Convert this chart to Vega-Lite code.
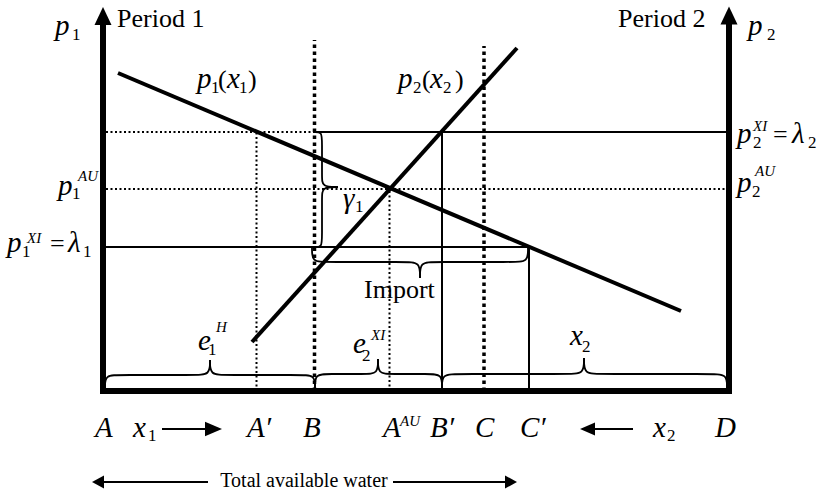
{
  "$schema": "https://vega.github.io/schema/vega-lite/v6.json",
  "width": 824,
  "height": 494,
  "padding": 0,
  "autosize": {"type": "fit", "contains": "padding"},
  "background": "white",
  "config": {"view": {"stroke": null}, "text": {"font": "'Liberation Serif', 'Times New Roman', Tinos, 'DejaVu Serif', serif"}},
  "datasets": {
    "axes": [
      {"x": 0, "y": 0, "x2": 0, "y2": 36.8},
      {"x": 62.6, "y": 0, "x2": 62.6, "y2": 36.8},
      {"x": 0, "y": 0, "x2": 62.6, "y2": 0}
    ],
    "curves": [
      {"x": 1.5, "y": 31.8, "x2": 57.8, "y2": 8.0},
      {"x": 14.9, "y": 4.9, "x2": 41.4, "y2": 34.3}
    ],
    "solid": [
      {"x": 21.1, "y": 25.9, "x2": 62.6, "y2": 25.9},
      {"x": 0.3, "y": 14.4, "x2": 42.6, "y2": 14.4},
      {"x": 33.9, "y": 0, "x2": 33.9, "y2": 25.9},
      {"x": 42.6, "y": 0, "x2": 42.6, "y2": 14.4}
    ],
    "dotthin": [
      {"x": 0.3, "y": 25.9, "x2": 21.1, "y2": 25.9},
      {"x": 0.3, "y": 20.2, "x2": 62.6, "y2": 20.2},
      {"x": 15.35, "y": 0, "x2": 15.35, "y2": 25.9},
      {"x": 28.65, "y": 0, "x2": 28.65, "y2": 20.2}
    ],
    "dotthick": [
      {"x": 21.15, "y": 0, "x2": 21.15, "y2": 35.1},
      {"x": 38.1, "y": 0, "x2": 38.1, "y2": 34.5}
    ],
    "arrowlines": [
      {"x": 5.9, "y": -3.8, "x2": 10.4, "y2": -3.8},
      {"x": 49.0, "y": -3.8, "x2": 53.0, "y2": -3.8},
      {"x": -0.1, "y": -9.1, "x2": 10.5, "y2": -9.1},
      {"x": 29.0, "y": -9.1, "x2": 40.4, "y2": -9.1}
    ],
    "heads": [
      {"x": 0, "y": 37.5, "k": "up"},
      {"x": 62.6, "y": 37.55, "k": "up"},
      {"x": 11.05, "y": -3.8, "k": "r1"},
      {"x": 48.45, "y": -3.8, "k": "l1"},
      {"x": -0.5, "y": -9.1, "k": "lw"},
      {"x": 40.8, "y": -9.1, "k": "rw"}
    ],
    "braces": [
      {"b": "e1L", "i": 0, "x": 0.2, "y": 0.3}, {"b": "e1L", "i": 1, "x": 0.2, "y": 1.6}, {"b": "e1L", "i": 2, "x": 1.7, "y": 1.6}, {"b": "e1L", "i": 3, "x": 9.2, "y": 1.6}, {"b": "e1L", "i": 4, "x": 10.7, "y": 1.6}, {"b": "e1L", "i": 5, "x": 10.7, "y": 3.1},
      {"b": "e1R", "i": 0, "x": 21.2, "y": 0.3}, {"b": "e1R", "i": 1, "x": 21.2, "y": 1.6}, {"b": "e1R", "i": 2, "x": 19.7, "y": 1.6}, {"b": "e1R", "i": 3, "x": 12.2, "y": 1.6}, {"b": "e1R", "i": 4, "x": 10.7, "y": 1.6}, {"b": "e1R", "i": 5, "x": 10.7, "y": 3.1},
      {"b": "e2L", "i": 0, "x": 21.2, "y": 0.3}, {"b": "e2L", "i": 1, "x": 21.2, "y": 1.7}, {"b": "e2L", "i": 2, "x": 22.5, "y": 1.7}, {"b": "e2L", "i": 3, "x": 26.2, "y": 1.7}, {"b": "e2L", "i": 4, "x": 27.5, "y": 1.7}, {"b": "e2L", "i": 5, "x": 27.5, "y": 3.2},
      {"b": "e2R", "i": 0, "x": 33.9, "y": 0.3}, {"b": "e2R", "i": 1, "x": 33.9, "y": 1.7}, {"b": "e2R", "i": 2, "x": 32.6, "y": 1.7}, {"b": "e2R", "i": 3, "x": 28.8, "y": 1.7}, {"b": "e2R", "i": 4, "x": 27.5, "y": 1.7}, {"b": "e2R", "i": 5, "x": 27.5, "y": 3.2},
      {"b": "x2L", "i": 0, "x": 33.9, "y": 0.3}, {"b": "x2L", "i": 1, "x": 33.9, "y": 1.7}, {"b": "x2L", "i": 2, "x": 35.4, "y": 1.7}, {"b": "x2L", "i": 3, "x": 46.6, "y": 1.7}, {"b": "x2L", "i": 4, "x": 48.1, "y": 1.7}, {"b": "x2L", "i": 5, "x": 48.1, "y": 3.3},
      {"b": "x2R", "i": 0, "x": 62.4, "y": 0.3}, {"b": "x2R", "i": 1, "x": 62.4, "y": 1.7}, {"b": "x2R", "i": 2, "x": 60.9, "y": 1.7}, {"b": "x2R", "i": 3, "x": 49.6, "y": 1.7}, {"b": "x2R", "i": 4, "x": 48.1, "y": 1.7}, {"b": "x2R", "i": 5, "x": 48.1, "y": 3.3},
      {"b": "gT", "i": 0, "x": 21.1, "y": 25.9}, {"b": "gT", "i": 1, "x": 21.9, "y": 25.9}, {"b": "gT", "i": 2, "x": 21.9, "y": 25.0}, {"b": "gT", "i": 3, "x": 21.9, "y": 21.4}, {"b": "gT", "i": 4, "x": 21.9, "y": 20.4}, {"b": "gT", "i": 5, "x": 23.5, "y": 20.4},
      {"b": "gB", "i": 0, "x": 21.1, "y": 14.4}, {"b": "gB", "i": 1, "x": 21.9, "y": 14.4}, {"b": "gB", "i": 2, "x": 21.9, "y": 15.3}, {"b": "gB", "i": 3, "x": 21.9, "y": 19.4}, {"b": "gB", "i": 4, "x": 21.9, "y": 20.4}, {"b": "gB", "i": 5, "x": 23.5, "y": 20.4},
      {"b": "imL", "i": 0, "x": 20.9, "y": 14.3}, {"b": "imL", "i": 1, "x": 20.9, "y": 12.9}, {"b": "imL", "i": 2, "x": 22.3, "y": 12.9}, {"b": "imL", "i": 3, "x": 30.3, "y": 12.9}, {"b": "imL", "i": 4, "x": 31.7, "y": 12.9}, {"b": "imL", "i": 5, "x": 31.7, "y": 11.3},
      {"b": "imR", "i": 0, "x": 42.5, "y": 14.3}, {"b": "imR", "i": 1, "x": 42.5, "y": 12.9}, {"b": "imR", "i": 2, "x": 41.1, "y": 12.9}, {"b": "imR", "i": 3, "x": 33.1, "y": 12.9}, {"b": "imR", "i": 4, "x": 31.7, "y": 12.9}, {"b": "imR", "i": 5, "x": 31.7, "y": 11.3}
    ],
    "italic": [
      {"t": "p", "x": -4.8, "y": 35.6},
      {"t": "p", "x": 9.4, "y": 30.3},
      {"t": "x", "x": 12.4, "y": 30.3},
      {"t": "p", "x": 29.5, "y": 30.3},
      {"t": "x", "x": 32.7, "y": 30.3},
      {"t": "p", "x": 64.5, "y": 35.6},
      {"t": "p", "x": 63.4, "y": 24.8},
      {"t": "λ", "x": 68.9, "y": 24.8},
      {"t": "p", "x": 63.4, "y": 19.9},
      {"t": "p", "x": -4.5, "y": 19.6},
      {"t": "p", "x": -9.6, "y": 13.9},
      {"t": "λ", "x": -3.5, "y": 13.9},
      {"t": "γ", "x": 24.0, "y": 18.3},
      {"t": "e", "x": 9.5, "y": 4.1},
      {"t": "e", "x": 25.0, "y": 3.8},
      {"t": "x", "x": 46.7, "y": 4.6},
      {"t": "A", "x": -0.8, "y": -4.6},
      {"t": "x", "x": 3.0, "y": -4.6},
      {"t": "A′", "x": 14.4, "y": -4.6},
      {"t": "B", "x": 20.0, "y": -4.6},
      {"t": "A", "x": 28.0, "y": -4.6},
      {"t": "B′", "x": 32.7, "y": -4.6},
      {"t": "C", "x": 37.2, "y": -4.6},
      {"t": "C′", "x": 41.7, "y": -4.6},
      {"t": "x", "x": 55.0, "y": -4.6},
      {"t": "D", "x": 61.2, "y": -4.6}
    ],
    "upright": [
      {"t": "Period 1", "x": 1.4, "y": 36.4},
      {"t": "Period 2", "x": 51.5, "y": 36.4},
      {"t": "Import", "x": 26.1, "y": 9.3},
      {"t": "(", "x": 11.5, "y": 30.3},
      {"t": ")", "x": 14.5, "y": 30.3},
      {"t": "(", "x": 31.9, "y": 30.3},
      {"t": ")", "x": 35.2, "y": 30.3},
      {"t": "=", "x": -5.3, "y": 13.9},
      {"t": "=", "x": 67.0, "y": 24.8}
    ],
    "subs": [
      {"t": "1", "x": -3.1, "y": 35.1},
      {"t": "1", "x": 10.8, "y": 29.8},
      {"t": "1", "x": 13.6, "y": 29.8},
      {"t": "2", "x": 31.0, "y": 29.8},
      {"t": "2", "x": 34.0, "y": 29.8},
      {"t": "2", "x": 66.4, "y": 35.1},
      {"t": "2", "x": 65.0, "y": 24.3},
      {"t": "2", "x": 70.5, "y": 24.3},
      {"t": "2", "x": 64.9, "y": 19.4},
      {"t": "1", "x": -3.1, "y": 19.2},
      {"t": "1", "x": -8.1, "y": 13.4},
      {"t": "1", "x": -2.0, "y": 13.4},
      {"t": "1", "x": 25.2, "y": 17.9},
      {"t": "1", "x": 10.5, "y": 3.6},
      {"t": "2", "x": 25.9, "y": 3.0},
      {"t": "2", "x": 47.9, "y": 3.9},
      {"t": "1", "x": 4.5, "y": -5.0},
      {"t": "2", "x": 56.4, "y": -5.0}
    ],
    "sups": [
      {"t": "AU", "x": -2.5, "y": 21.0},
      {"t": "XI", "x": -7.6, "y": 14.8},
      {"t": "XI", "x": 65.0, "y": 26.0},
      {"t": "AU", "x": 65.2, "y": 21.5},
      {"t": "H", "x": 11.3, "y": 5.9},
      {"t": "XI", "x": 26.8, "y": 5.1},
      {"t": "AU", "x": 29.7, "y": -3.5}
    ],
    "caption": [
      {"t": "Total available water", "x": 20.1, "y": -9.6}
    ]
  },
  "encoding": {
    "x": {"field": "x", "type": "quantitative", "scale": {"domain": [-10.3, 72.1], "nice": false, "zero": false}, "axis": null},
    "y": {"field": "y", "type": "quantitative", "scale": {"domain": [-10.3, 39.1], "nice": false, "zero": false}, "axis": null}
  },
  "layer": [
    {
      "data": {"name": "dotthin"},
      "mark": {"type": "rule", "color": "black", "strokeWidth": 2, "strokeDash": [2, 2.5]},
      "encoding": {"x2": {"field": "x2"}, "y2": {"field": "y2"}}
    },
    {
      "data": {"name": "dotthick"},
      "mark": {"type": "rule", "color": "black", "strokeWidth": 3.5, "strokeDash": [3.5, 3.5]},
      "encoding": {"x2": {"field": "x2"}, "y2": {"field": "y2"}}
    },
    {
      "data": {"name": "solid"},
      "mark": {"type": "rule", "color": "black", "strokeWidth": 2},
      "encoding": {"x2": {"field": "x2"}, "y2": {"field": "y2"}}
    },
    {
      "data": {"name": "curves"},
      "mark": {"type": "rule", "color": "black", "strokeWidth": 4},
      "encoding": {"x2": {"field": "x2"}, "y2": {"field": "y2"}}
    },
    {
      "data": {"name": "axes"},
      "mark": {"type": "rule", "color": "black", "strokeWidth": 6, "strokeCap": "square"},
      "encoding": {"x2": {"field": "x2"}, "y2": {"field": "y2"}}
    },
    {
      "data": {"name": "arrowlines"},
      "mark": {"type": "rule", "color": "black", "strokeWidth": 2},
      "encoding": {"x2": {"field": "x2"}, "y2": {"field": "y2"}}
    },
    {
      "data": {"name": "heads"},
      "mark": {"type": "point", "filled": true, "color": "black", "opacity": 1, "size": 400, "strokeWidth": 0},
      "encoding": {
        "shape": {
          "field": "k", "type": "nominal", "legend": null,
          "scale": {
            "domain": ["up", "r1", "l1", "lw", "rw"],
            "range": ["M0,-0.9L-0.85,0.9L0.85,0.9Z", "M0.85,0L-0.85,-0.72L-0.85,0.72Z", "M-0.75,0L0.75,-0.65L0.75,0.65Z", "M-0.6,0L0.6,-0.66L0.6,0.66Z", "M0.6,0L-0.6,-0.66L-0.6,0.66Z"]
          }
        }
      }
    },
    {
      "data": {"name": "braces"},
      "mark": {"type": "line", "color": "black", "strokeWidth": 1.8, "interpolate": "basis"},
      "encoding": {"detail": {"field": "b"}, "order": {"field": "i", "type": "quantitative"}}
    },
    {
      "data": {"name": "italic"},
      "mark": {"type": "text", "fontStyle": "italic", "fontSize": 29, "align": "left", "baseline": "alphabetic", "color": "black"},
      "encoding": {"text": {"field": "t"}}
    },
    {
      "data": {"name": "upright"},
      "mark": {"type": "text", "fontSize": 26, "align": "left", "baseline": "alphabetic", "color": "black"},
      "encoding": {"text": {"field": "t"}}
    },
    {
      "data": {"name": "subs"},
      "mark": {"type": "text", "fontSize": 17, "align": "left", "baseline": "alphabetic", "color": "black"},
      "encoding": {"text": {"field": "t"}}
    },
    {
      "data": {"name": "sups"},
      "mark": {"type": "text", "fontStyle": "italic", "fontSize": 15, "align": "left", "baseline": "alphabetic", "color": "black"},
      "encoding": {"text": {"field": "t"}}
    },
    {
      "data": {"name": "caption"},
      "mark": {"type": "text", "fontSize": 20, "align": "center", "baseline": "alphabetic", "color": "black"},
      "encoding": {"text": {"field": "t"}}
    }
  ]
}
